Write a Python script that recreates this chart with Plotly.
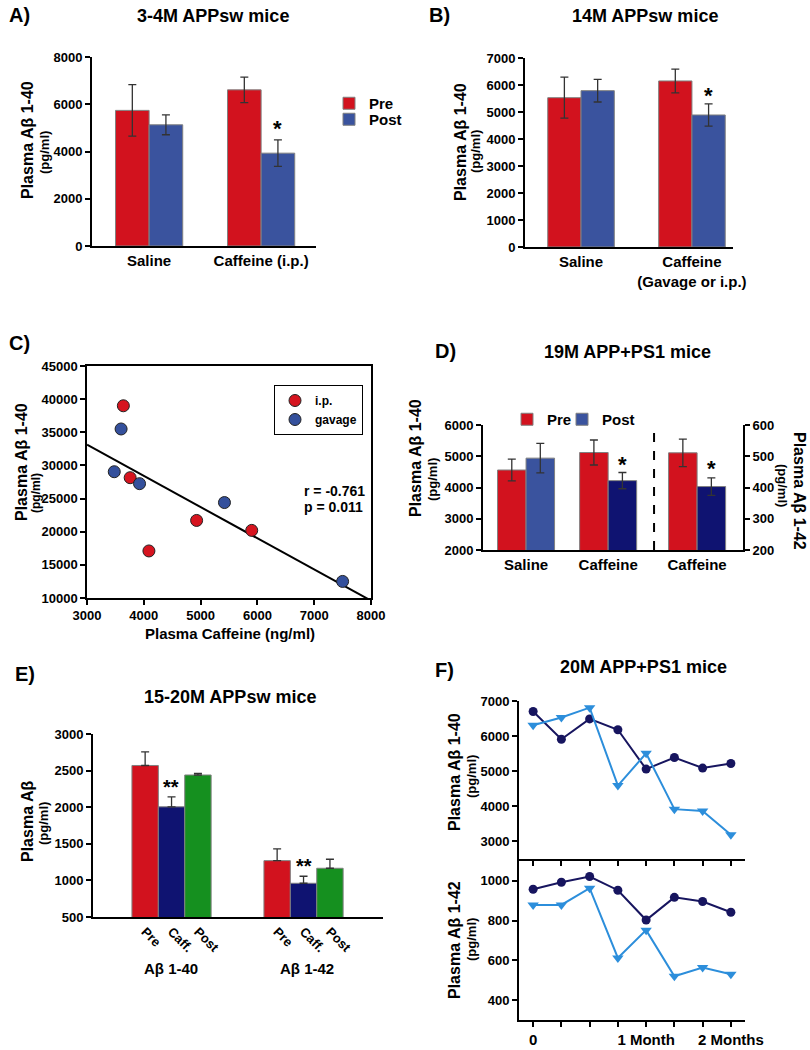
import numpy as np
import plotly.graph_objects as go

FONT = "Liberation Sans, Arial, Helvetica, sans-serif"
W, H = 810, 1050

RED = "#D2121E"
BLUE = "#3A539E"
NAVY = "#0F1371"
GREEN = "#15901F"
F_NAVY = "#17155F"
F_LIGHT = "#2C8EDB"
OUTLINE = "#808080"
ERRC = "#333333"

# ---------------- data ----------------
# Panel A: 3-4M APPsw mice
a_groups = ["Saline", "Caffeine (i.p.)"]
a_pre = [5740, 6610]
a_pre_err = [1090, 540]
a_post = [5130, 3930]
a_post_err = [420, 560]

# Panel B: 14M APPsw mice
b_groups = ["Saline", "Caffeine<br>(Gavage or i.p.)"]
b_pre = [5530, 6150]
b_pre_err = [760, 440]
b_post = [5790, 4890]
b_post_err = [420, 410]

# Panel C: correlation
c_ip_x = [3640, 3760, 4090, 4930, 5900]
c_ip_y = [39000, 28150, 17100, 21700, 20200]
c_gav_x = [3600, 3480, 3925, 5420, 7500]
c_gav_y = [35500, 29050, 27250, 24400, 12500]
c_stats = ["r = -0.761", "p = 0.011"]

# Panel D: 19M APP+PS1 mice
d_groups = ["Saline", "Caffeine", "Caffeine"]
d_pre_40 = [4560, 5120]
d_pre_40_err = [350, 400]
d_post_40 = [4940, 4220]
d_post_40_err = [470, 260]
d_pre_42 = [511]
d_pre_42_err = [44]
d_post_42 = [403]
d_post_42_err = [28]

# Panel E: 15-20M APPsw mice
e_groups = ["Aβ 1-40", "Aβ 1-42"]
e_conditions = ["Pre", "Caff.", "Post"]
e_pre = [2570, 1270]
e_pre_err = [185, 160]
e_caff = [2005, 961]
e_caff_err = [135, 96]
e_post = [2440, 1166]
e_post_err = [22, 123]

# Panel F: 20M APP+PS1 mice
f_time = [0, 1, 2, 3, 4, 5, 6, 7]
f_ticktext = ["0", "", "", "", "1 Month", "", "", "2 Months"]
f40_circ = [6700, 5910, 6490, 6180, 5060, 5390, 5090, 5220]
f40_tri = [6310, 6530, 6810, 4590, 5510, 3920, 3870, 3190]
f42_circ = [958, 993, 1022, 953, 803, 917, 896, 842]
f42_tri = [879, 879, 963, 612, 752, 520, 564, 530]


# ---------------- helpers ----------------
def px(x):
    return x / W


def py(y):
    return 1 - y / H


def fnt(size, color="black", bold=True):
    d = dict(family=FONT, size=size, color=color)
    if bold:
        d["weight"] = "bold"
    return d


def axis(**kw):
    base = dict(showline=True, linecolor="black", linewidth=2, ticks="outside",
                ticklen=5, tickwidth=2, tickcolor="black", showgrid=False,
                zeroline=False, tickfont=fnt(13), fixedrange=True, automargin=False)
    base.update(kw)
    return base


def err(arr, minus=None):
    d = dict(type="data", array=arr, color=ERRC, thickness=1.3, width=4, visible=True)
    if minus is not None:
        d["symmetric"] = False
        d["arrayminus"] = minus
    return d


def leg(x, y, size, **kw):
    d = dict(x=px(x), y=py(y), xanchor="left", yanchor="top", font=fnt(size),
             bgcolor="rgba(0,0,0,0)", itemwidth=30)
    d.update(kw)
    return d


fig = go.Figure()
bar_line = dict(color=OUTLINE, width=1)

# ---------------- Panel A ----------------
a_pos = list(range(len(a_groups)))
fig.add_trace(go.Bar(x=a_pos, y=a_pre, name="Pre", marker=dict(color=RED, line=bar_line),
                     width=0.3, offset=-0.3, error_y=err(a_pre_err), xaxis="x", yaxis="y",
                     legend="legend"))
fig.add_trace(go.Bar(x=a_pos, y=a_post, name="Post", marker=dict(color=BLUE, line=bar_line),
                     width=0.3, offset=0, error_y=err(a_post_err), xaxis="x", yaxis="y",
                     legend="legend4"))

# ---------------- Panel B ----------------
b_pos = list(range(len(b_groups)))
fig.add_trace(go.Bar(x=b_pos, y=b_pre, name="Pre", marker=dict(color=RED, line=bar_line),
                     width=0.3, offset=-0.3, error_y=err(b_pre_err), xaxis="x2", yaxis="y2",
                     showlegend=False))
fig.add_trace(go.Bar(x=b_pos, y=b_post, name="Post", marker=dict(color=BLUE, line=bar_line),
                     width=0.3, offset=0, error_y=err(b_post_err), xaxis="x2", yaxis="y2",
                     showlegend=False))

# ---------------- Panel C ----------------
all_x = np.array(c_ip_x + c_gav_x, dtype=float)
all_y = np.array(c_ip_y + c_gav_y, dtype=float)
slope, intercept = np.polyfit(all_x, all_y, 1)
line_x = np.array([3000.0, 8000.0])
fig.add_trace(go.Scatter(x=line_x, y=slope * line_x + intercept, mode="lines",
                         line=dict(color="black", width=2), xaxis="x3", yaxis="y3",
                         showlegend=False, hoverinfo="skip"))
fig.add_trace(go.Scatter(x=c_ip_x, y=c_ip_y, mode="markers", name="i.p.",
                         marker=dict(color="#D6141F", size=12, line=dict(color="#222", width=1)),
                         xaxis="x3", yaxis="y3", legend="legend2"))
fig.add_trace(go.Scatter(x=c_gav_x, y=c_gav_y, mode="markers", name="gavage",
                         marker=dict(color="#34509C", size=12, line=dict(color="#222", width=1)),
                         xaxis="x3", yaxis="y3", legend="legend2"))

# ---------------- Panel D ----------------
d_centers = [1.51, 4.39, 7.51]
fig.add_trace(go.Bar(x=d_centers[:2], y=d_pre_40, name="Pre",
                     marker=dict(color=RED, line=bar_line), width=1, offset=-1,
                     error_y=err(d_pre_40_err), xaxis="x4", yaxis="y4", legend="legend3"))
fig.add_trace(go.Bar(x=d_centers[:2], y=d_post_40, name="Post",
                     marker=dict(color=[BLUE, NAVY], line=bar_line), width=1, offset=0,
                     error_y=err(d_post_40_err), xaxis="x4", yaxis="y4", legend="legend5"))
fig.add_trace(go.Bar(x=d_centers[2:], y=d_pre_42, name="Pre",
                     marker=dict(color=RED, line=bar_line), width=1, offset=-1,
                     error_y=err(d_pre_42_err), xaxis="x4", yaxis="y5", showlegend=False))
fig.add_trace(go.Bar(x=d_centers[2:], y=d_post_42, name="Post",
                     marker=dict(color=NAVY, line=bar_line), width=1, offset=0,
                     error_y=err(d_post_42_err), xaxis="x4", yaxis="y5", showlegend=False))

# ---------------- Panel E ----------------
e_pos = np.arange(len(e_groups), dtype=float)
e_w = 0.2
for k, (vals, errs, col) in enumerate([(e_pre, e_pre_err, RED), (e_caff, e_caff_err, NAVY),
                                       (e_post, e_post_err, GREEN)]):
    fig.add_trace(go.Bar(x=e_pos + (k - 1) * e_w, y=vals, name=e_conditions[k],
                         marker=dict(color=col, line=bar_line), width=e_w,
                         error_y=err(errs, [0] * len(errs)), xaxis="x5", yaxis="y6",
                         showlegend=False))
e_tickvals = [g + (k - 1) * e_w for g in e_pos for k in range(3)]
e_ticktext = [c for _ in e_groups for c in e_conditions]

# ---------------- Panel F ----------------
fig.add_trace(go.Scatter(x=f_time, y=f40_circ, mode="lines+markers",
                         line=dict(color=F_NAVY, width=2),
                         marker=dict(symbol="circle", size=9, color=F_NAVY),
                         xaxis="x6", yaxis="y7", showlegend=False))
fig.add_trace(go.Scatter(x=f_time, y=f40_tri, mode="lines+markers",
                         line=dict(color=F_LIGHT, width=2),
                         marker=dict(symbol="triangle-down", size=10, color=F_LIGHT),
                         xaxis="x6", yaxis="y7", showlegend=False))
fig.add_trace(go.Scatter(x=f_time, y=f42_circ, mode="lines+markers",
                         line=dict(color=F_NAVY, width=2),
                         marker=dict(symbol="circle", size=9, color=F_NAVY),
                         xaxis="x7", yaxis="y8", showlegend=False))
fig.add_trace(go.Scatter(x=f_time, y=f42_tri, mode="lines+markers",
                         line=dict(color=F_LIGHT, width=2),
                         marker=dict(symbol="triangle-down", size=10, color=F_LIGHT),
                         xaxis="x7", yaxis="y8", showlegend=False))

# ---------------- layout ----------------
layout = dict(
    width=W, height=H, margin=dict(l=0, r=0, t=0, b=0, pad=0, autoexpand=False),
    paper_bgcolor="white", plot_bgcolor="rgba(0,0,0,0)",
    barmode="overlay", font=fnt(12), showlegend=True,
    # A
    xaxis=axis(domain=[px(92), px(316)], anchor="y", range=[-0.51, 1.49],
               tickvals=a_pos, ticktext=a_groups, ticks="", ticklen=0, tickfont=fnt(15)),
    yaxis=axis(domain=[py(246), py(57)], anchor="x", range=[0, 8000],
               tickvals=[0, 2000, 4000, 6000, 8000]),
    # B
    xaxis2=axis(domain=[px(525), px(733)], anchor="y2", range=[-0.505, 1.37],
                tickvals=b_pos, ticktext=b_groups, ticks="", ticklen=0, tickfont=fnt(15)),
    yaxis2=axis(domain=[py(247), py(58)], anchor="x2", range=[0, 7000], dtick=1000),
    # C
    xaxis3=axis(domain=[px(87), px(371)], anchor="y3", range=[3000, 8000], dtick=1000,
                mirror=True, linewidth=1.5, tickformat="d"),
    yaxis3=axis(domain=[py(598), py(366)], anchor="x3", range=[10000, 45000], dtick=5000,
                mirror=True, linewidth=1.5, tickformat="d"),
    # D
    xaxis4=axis(domain=[px(483), px(743)], anchor="y4", range=[0, 9.12],
                tickvals=d_centers, ticktext=d_groups, ticks="", ticklen=0, tickfont=fnt(15)),
    yaxis4=axis(domain=[py(550), py(425)], anchor="x4", range=[2000, 6000], dtick=1000),
    yaxis5=axis(domain=[py(550), py(425)], anchor="x4", overlaying="y4", side="right",
                range=[200, 600], dtick=100),
    # E
    xaxis5=axis(domain=[px(93), px(383)], anchor="y6", range=[-0.595, 1.602],
                tickvals=e_tickvals, ticktext=e_ticktext, ticks="", ticklen=0, tickangle=45,
                tickfont=fnt(13)),
    yaxis6=axis(domain=[py(917), py(734)], anchor="x5", range=[500, 3000], dtick=500),
    # F top
    xaxis6=axis(domain=[px(519), px(745)], anchor="y7", range=[-0.5, 7.5],
                tickvals=f_time, showticklabels=False),
    yaxis7=axis(domain=[py(859), py(701)], anchor="x6", range=[2500, 7000],
                tickvals=[3000, 4000, 5000, 6000, 7000]),
    # F bottom
    xaxis7=axis(domain=[px(519), px(745)], anchor="y8", range=[-0.5, 7.5],
                tickvals=f_time, ticktext=f_ticktext, tickfont=fnt(15)),
    yaxis8=axis(domain=[py(1020), py(859)], anchor="x7", range=[300, 1110],
                tickvals=[400, 600, 800, 1000]),
    # legends: A (Pre, Post), C (box), D (Pre, Post)
    legend=leg(329, 87, 15),
    legend4=leg(329, 103, 15),
    legend2=leg(274, 385, 12, bgcolor="white", bordercolor="black", borderwidth=1),
    legend3=leg(507, 403, 15),
    legend5=leg(562, 403, 15),
)
fig.update_layout(**layout)

# dashed separator in panel D
fig.add_shape(type="line", xref="x4", yref="y4 domain", x0=6.0, x1=6.0, y0=0, y1=1,
              line=dict(color="black", width=2, dash="dash"))

ann = []


def text(x, y, t, size, angle=0, xanchor="center", yanchor="middle"):
    ann.append(dict(x=px(x), y=py(y), xref="paper", yref="paper", text=t, showarrow=False,
                    font=fnt(size), textangle=angle, xanchor=xanchor, yanchor=yanchor))


# panel letters and titles
text(7, 15, "A)", 20, xanchor="left")
text(213, 16, "3-4M APPsw mice", 18)
text(427, 15, "B)", 20, xanchor="left")
text(645, 16, "14M APPsw mice", 18)
text(7, 343, "C)", 20, xanchor="left")
text(433, 351, "D)", 20, xanchor="left")
text(627, 352, "19M APP+PS1 mice", 18)
text(13, 674, "E)", 20, xanchor="left")
text(230, 697, "15-20M APPsw mice", 18)
text(433, 670, "F)", 20, xanchor="left")
text(643, 667, "20M APP+PS1 mice", 18)

# y axis titles
text(28, 140, "Plasma Aβ 1-40", 16, -90)
text(45, 153, "(pg/ml)", 13, -90)
text(460, 142, "Plasma Aβ 1-40", 16, -90)
text(475, 152, "(pg/ml)", 13, -90)
text(22, 462, "Plasma Aβ 1-40", 16, -90)
text(36, 493, "(pg/ml)", 12, -90)
text(415, 458, "Plasma Aβ 1-40", 16, -90)
text(433, 480, "(pg/ml)", 13, -90)
text(800, 491, "Plasma Aβ 1-42", 16, 90)
text(783, 485, "(pg/ml)", 13, 90)
text(27, 822, "Plasma Aβ", 16, -90)
text(43, 824, "(pg/ml)", 13, -90)
text(454, 772, "Plasma Aβ 1-40", 16, -90)
text(471, 777, "(pg/ml)", 13, -90)
text(454, 940, "Plasma Aβ 1-42", 16, -90)
text(471, 940, "(pg/ml)", 13, -90)

# C annotations
text(230, 633, "Plasma Caffeine (ng/ml)", 15)
text(302, 491, c_stats[0], 14, xanchor="left")
text(302, 507, c_stats[1], 14, xanchor="left")

# E group labels
text(171, 968, e_groups[0], 15)
text(307, 968, e_groups[1], 15)

# significance stars
text(277, 128, "*", 22)
text(708, 95, "*", 22)
text(622, 464, "*", 22)
text(711, 468, "*", 22)
text(171, 787, "**", 20)
text(304, 866, "**", 20)

fig.update_layout(annotations=ann)
# remove the page's default body margin so the 810x1050 figure fills the window exactly
fig.write_html("out.html", config={"displayModeBar": False},
               post_script="document.body.style.margin='0';document.body.style.overflow='hidden';")
